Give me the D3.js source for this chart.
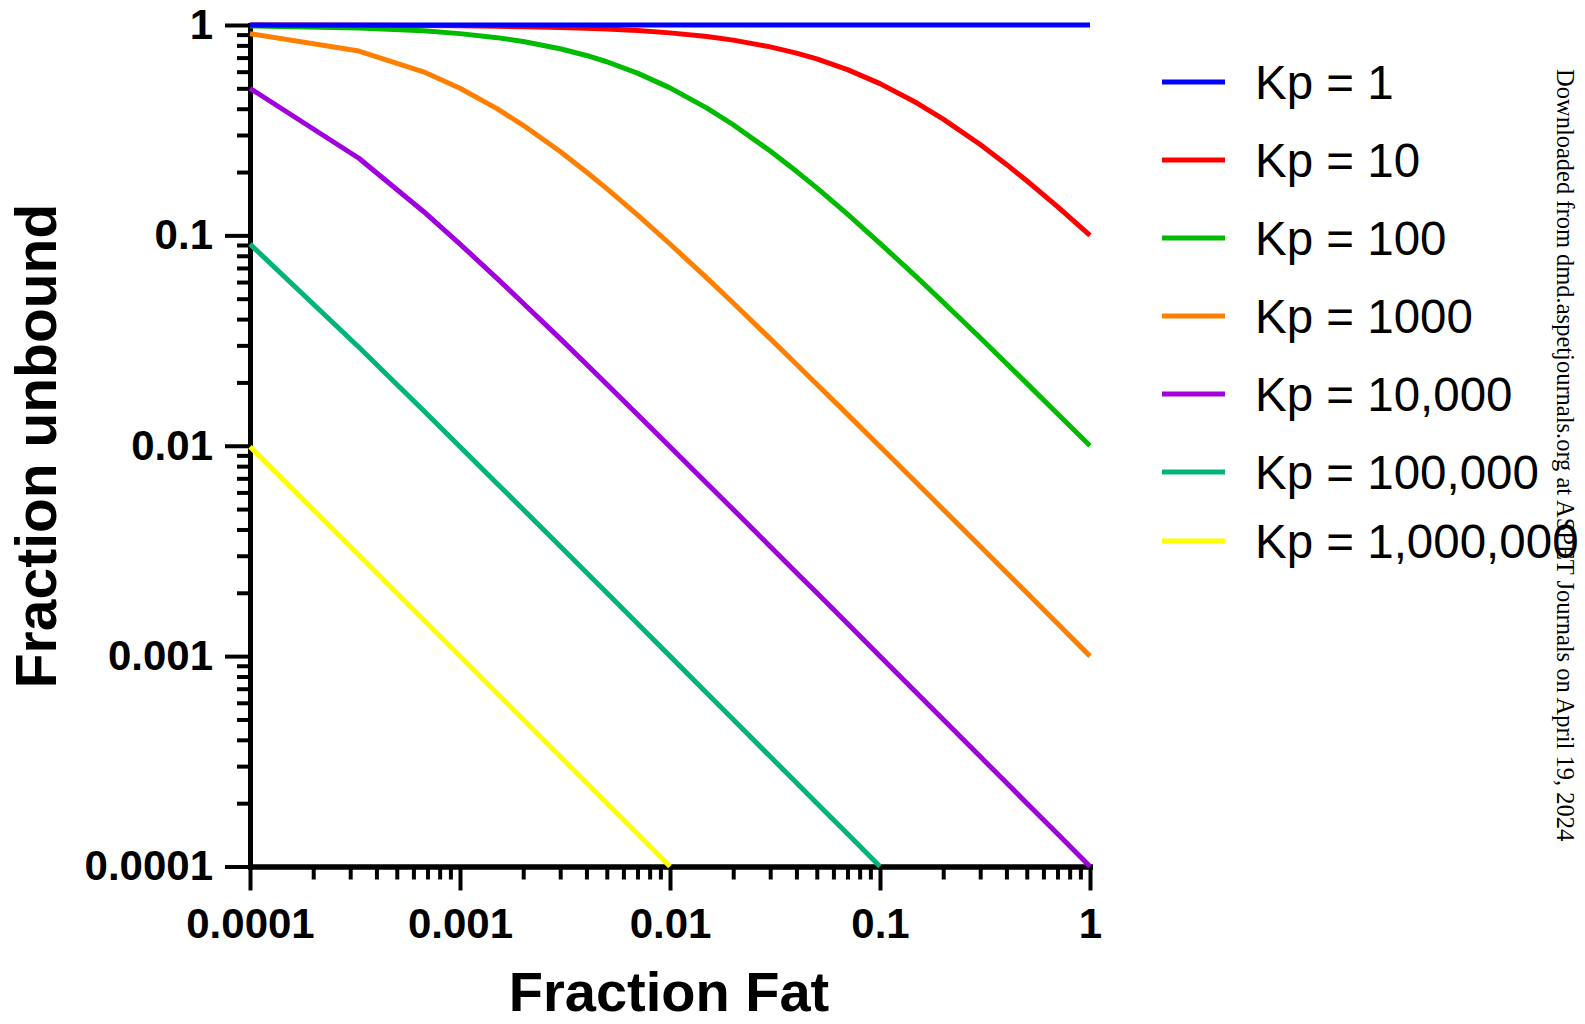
<!DOCTYPE html>
<html>
<head>
<meta charset="utf-8">
<script src="https://cdn.jsdelivr.net/npm/d3@7"></script>
<style>
  html, body { margin: 0; padding: 0; background: #fff; }
  svg { display: block; }
</style>
</head>
<body>
<svg id="chart" width="1585" height="1024"></svg>
<script>
// ---------------- DATA ----------------
const fractionFat = [0.0001, 0.00033, 0.00067, 0.001, 0.0015, 0.002, 0.003, 0.004, 0.005, 0.007,
  0.01, 0.015, 0.02, 0.03, 0.04, 0.05, 0.07, 0.1, 0.15, 0.2, 0.3, 0.4, 0.5, 0.7, 1];

const kp1 = [1, 1, 1, 1, 1, 1, 1, 1, 1, 1, 1, 1, 1, 1, 1, 1, 1, 1, 1, 1, 1, 1, 1, 1, 1];
const kp10 = [0.9991, 0.9970, 0.9940, 0.9911, 0.9867, 0.9823, 0.9737, 0.9653, 0.9569, 0.9407,
  0.9174, 0.8811, 0.8475, 0.7874, 0.7353, 0.6897, 0.6135, 0.5263, 0.4255, 0.3571, 0.2703, 0.2174, 0.1818, 0.1370, 0.1];
const kp100 = [0.9902, 0.9684, 0.9378, 0.9099, 0.8707, 0.8347, 0.7710, 0.7163, 0.6689, 0.5907,
  0.5025, 0.4024, 0.3356, 0.2519, 0.2016, 0.1681, 0.1261, 0.0917, 0.0631, 0.0481, 0.0326, 0.0246, 0.0198, 0.0142, 0.01];
const kp1000 = [0.9092, 0.7521, 0.5990, 0.5003, 0.4002, 0.3336, 0.2502, 0.2002, 0.1668, 0.1251,
  0.0910, 0.0626, 0.0477, 0.0323, 0.0244, 0.0196, 0.0141, 0.00991, 0.00663, 0.00498, 0.00333, 0.00250, 0.00200, 0.00143, 0.001];
const kp10000 = [0.5000, 0.2326, 0.1299, 0.0909, 0.0625, 0.0476, 0.0323, 0.0244, 0.0196, 0.01409,
  0.00990, 0.00662, 0.00498, 0.00332, 0.00249, 0.00200, 0.00143, 0.000999, 0.000666, 0.0005, 0.000333, 0.00025, 0.0002, 0.000143, 0.0001];
const kp100000 = [0.0909, 0.0294, 0.0147, 0.0099, 0.00662, 0.00498, 0.00333, 0.0025, 0.0020, 0.00143,
  0.0010, 0.000666, 0.0005, 0.000333, 0.00025, 0.0002, 0.000143, 0.0001];
const kp1000000 = [0.0099, 0.00302, 0.00149, 0.000999, 0.000666, 0.0005, 0.000333, 0.00025, 0.0002, 0.000143, 0.0001];

const seriesLabels = ["Kp = 1", "Kp = 10", "Kp = 100", "Kp = 1000", "Kp = 10,000", "Kp = 100,000", "Kp = 1,000,000"];
const seriesValues = [kp1, kp10, kp100, kp1000, kp10000, kp100000, kp1000000];
const seriesColors = ["#0000ff", "#ff0000", "#00bb00", "#ff8000", "#a000dd", "#00b478", "#ffff00"];

const majorTicks = [0.0001, 0.001, 0.01, 0.1, 1];
const majorTickLabels = ["0.0001", "0.001", "0.01", "0.1", "1"];
const xTitle = "Fraction Fat";
const yTitle = "Fraction unbound";
const watermark = "Downloaded from dmd.aspetjournals.org at ASPET Journals on April 19, 2024";

// ---------------- LAYOUT ----------------
const svg = d3.select("#chart");
const plotLeft = 250, plotRight = 1090, plotTop = 25, plotBottom = 866.5;
const FONT = "'Liberation Sans', Arial, Helvetica, sans-serif";

const x = d3.scaleLog().domain([0.0001, 1]).range([plotLeft, plotRight]);
const y = d3.scaleLog().domain([0.0001, 1]).range([plotBottom, plotTop]);

// minor ticks 2..9 for each decade
const minorTicks = [];
for (let d = 0; d < majorTicks.length - 1; d++) {
  for (let m = 2; m <= 9; m++) minorTicks.push(majorTicks[d] * m);
}
const labelOf = v => majorTickLabels[majorTicks.indexOf(v)];

function styleAxis(g) {
  g.select(".domain").attr("stroke", "#000").attr("stroke-width", 5).attr("stroke-linecap", "square");
  g.selectAll(".tick line").attr("stroke", "#000").attr("stroke-width", 4);
  g.selectAll(".tick text").attr("fill", "#000").attr("font-family", FONT)
    .attr("font-weight", "bold").attr("font-size", 42);
}

// Y axis minor
svg.append("g").attr("transform", `translate(${plotLeft},0)`)
  .call(d3.axisLeft(y).tickValues(minorTicks).tickSize(13).tickSizeOuter(0).tickFormat(""))
  .call(styleAxis);
// Y axis major
svg.append("g").attr("transform", `translate(${plotLeft},0)`)
  .call(d3.axisLeft(y).tickValues(majorTicks).tickSize(25).tickSizeOuter(0).tickPadding(12).tickFormat(labelOf))
  .call(styleAxis);
// X axis minor
svg.append("g").attr("transform", `translate(0,${plotBottom})`)
  .call(d3.axisBottom(x).tickValues(minorTicks).tickSize(13).tickSizeOuter(0).tickFormat(""))
  .call(styleAxis);
// X axis major
svg.append("g").attr("transform", `translate(0,${plotBottom})`)
  .call(d3.axisBottom(x).tickValues(majorTicks).tickSize(24).tickSizeOuter(0).tickPadding(18).tickFormat(labelOf))
  .call(styleAxis);

// Titles
svg.append("text").attr("x", 669).attr("y", 1011).attr("text-anchor", "middle")
  .attr("font-family", FONT).attr("font-weight", "bold").attr("font-size", 56).text(xTitle);
svg.append("text").attr("transform", "translate(56,446) rotate(-90)").attr("text-anchor", "middle")
  .attr("font-family", FONT).attr("font-weight", "bold").attr("font-size", 57).text(yTitle);

// Lines (drawn in reverse so Kp=1 lies on top)
const line = d3.line().x(d => x(d[0])).y(d => y(d[1]));
for (let i = seriesValues.length - 1; i >= 0; i--) {
  const pts = seriesValues[i].map((v, j) => [fractionFat[j], v]);
  svg.append("path").datum(pts).attr("d", line).attr("fill", "none")
    .attr("stroke", seriesColors[i]).attr("stroke-width", 5).attr("stroke-linejoin", "round");
}

// Legend
const legendY = [82, 160, 238, 316, 394, 472, 541];
seriesLabels.forEach((lab, i) => {
  const g = svg.append("g").attr("transform", `translate(0,${legendY[i]})`);
  g.append("line").attr("x1", 1162).attr("x2", 1225).attr("y1", 0).attr("y2", 0)
    .attr("stroke", seriesColors[i]).attr("stroke-width", 5);
  g.append("text").attr("x", 1255).attr("y", 0).attr("dy", "0.36em")
    .attr("font-family", FONT).attr("font-size", 47.5).attr("fill", "#000").text(lab);
});

// Watermark
svg.append("text").attr("transform", "translate(1557,69) rotate(90)")
  .attr("font-family", "'Liberation Serif', 'Times New Roman', serif").attr("font-size", 24.5)
  .attr("fill", "#000").text(watermark);
</script>
</body>
</html>
